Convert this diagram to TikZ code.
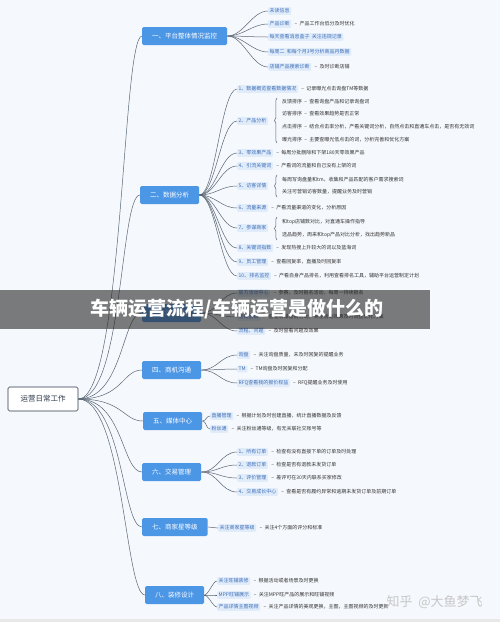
\documentclass[tikz,border=0pt]{standalone}
\usepackage{fontspec}
\setmainfont{Noto Sans CJK SC}
\usetikzlibrary{positioning,decorations.pathreplacing}
\definecolor{bakgrunn}{HTML}{F5F8FC}
\definecolor{hovedblaa}{HTML}{4C96E6}
\definecolor{merkefyll}{HTML}{E1ECFA}
\definecolor{merketekst}{HTML}{3B6DB8}
\definecolor{linjefarge}{HTML}{5A6675}
\definecolor{tekstfarge}{HTML}{333333}
\definecolor{rotfarge}{HTML}{2E3A4A}

\begin{document}
\begin{tikzpicture}[x=1pt,y=1pt,
  rot/.style={draw=rotfarge, fill=white, line width=0.6pt, rounded corners=1.5pt,
    minimum width=70pt, minimum height=24pt, text=rotfarge, font=\fontsize{7.5}{8}\selectfont},
  sec/.style={anchor=west, fill=hovedblaa, text=white, rounded corners=1.5pt,
    minimum height=18pt, inner xsep=10pt, font=\fontsize{6.5}{7}\selectfont},
  tag/.style={anchor=west, fill=merkefyll, text=merketekst, rounded corners=1pt,
    inner xsep=1.5pt, inner ysep=1.5pt, font=\fontsize{5}{6}\selectfont},
  note/.style={anchor=west, text=tekstfarge, inner sep=0pt, font=\fontsize{5}{6}\selectfont},
  branch/.style={draw=linjefarge, line width=0.5pt},
  stamme/.style={to path={.. controls +(45,0) and +(-20,0) .. (\tikztotarget)}},
  kurve/.style={to path={.. controls +(16,0) and +(-16,0) .. (\tikztotarget)}},
  kort/.style={to path={.. controls +(4,0) and +(-4,0) .. (\tikztotarget)}},
  klamme/.style={draw=linjefarge, line width=0.5pt, decorate, decoration={brace, amplitude=2.5pt}},
]
%Bakgrunn
  \fill[bakgrunn] (0,0) rectangle (500,-622);
  \fill[black!9] (0,-619) rectangle (500,-622);
  \useasboundingbox (0,0) rectangle (500,-622);

%Rot
  \node[rot] (root) at (43,-399) {运营日常工作};

%Hovedgrener
  \node[sec] (sec1) at (142,-36) {一、平台整体情况监控};
  \node[sec] (sec2) at (140,-195) {二、数据分析};
  \node[sec] (sec3) at (142,-313) {三、活动管理};
  \node[sec] (sec4) at (142,-370) {四、商机沟通};
  \node[sec] (sec5) at (143,-421) {五、媒体中心};
  \node[sec] (sec6) at (142,-472) {六、交易管理};
  \node[sec] (sec7) at (142,-527) {七、商家星等级};
  \node[sec] (sec8) at (145,-595) {八、装修设计};

%Linjer fra rot
  \path[branch] (root.east) edge[stamme] (sec1.west) edge[stamme] (sec2.west) edge[stamme] (sec3.west)
    edge[stamme] (sec4.west) edge[stamme] (sec5.west) edge[stamme] (sec6.west)
    edge[stamme] (sec7.west) edge[stamme] (sec8.west);

%En
  \node[tag] (t11) at (268,-11) {未读信息};
  \node[tag] (t12) at (268,-24) {产品诊断};
  \node[note, right=3pt of t12] (d12) {– \ 产品工作台低分及时优化};
  \node[tag] (t13) at (268,-37) {每天查看消息盒子 \ 关注违规记录};
  \node[tag] (t14) at (268,-52) {每周二 \ 和每个月3号分析商品月数据};
  \node[tag] (t15) at (268,-67) {店铺产品搜索诊断};
  \node[note, right=3pt of t15] (d15) {– \ 及时诊断店铺};
  \path[branch] (sec1.east) edge[kurve] (t11.west) edge[kurve] (t12.west) edge[kurve] (t13.west)
    edge[kurve] (t14.west) edge[kurve] (t15.west);

%To
  \node[tag] (t21) at (237,-89) {1、数据概览查看数据情况};
  \node[note, right=3pt of t21] (d21) {– \ 记录曝光点击询盘TM等数据};
  \node[tag] (t22) at (237,-121) {2、产品分析};
  \draw[klamme] (277,-143) -- (277,-98);
  \node[note] (p1) at (282,-102) {反馈排序 \ – \ 查看询盘产品和记录询盘词};
  \node[note] (p2) at (282,-114) {访客排序 \ – \ 查看效果趋势是否正常};
  \node[note] (p3) at (282,-127) {点击排序 \ – \ 结合点击率分析，产看关键词分析，自然点击和直通车点击，是否有无效词};
  \node[note] (p4) at (282,-140) {曝光排序 \ – \ 主要查曝光低点击的词，分析完善和优化方案};
  \node[tag] (t23) at (237,-153) {3、零效果产品};
  \node[note, right=3pt of t23] (d23) {– \ 每周分批删除和下架180天零效果产品};
  \node[tag] (t24) at (237,-166) {4、引流关键词};
  \node[note, right=3pt of t24] (d24) {– \ 产看词的流量和自己没有上架的词};
  \node[tag] (t25) at (237,-186) {5、访客详情};
  \draw[klamme] (277,-197) -- (277,-175);
  \node[note] (v1) at (282,-180) {每周写询盘量和tm，收集和产品匹配的客户需求搜索词};
  \node[note] (v2) at (282,-192) {关注可营销访客数量，提醒业务及时营销};
  \node[tag] (t26) at (237,-208) {6、流量来源};
  \node[note, right=3pt of t26] (d26) {– \ 产看流量渠道的变化，分析原因};
  \node[tag] (t27) at (237,-228) {7、参谋商家};
  \draw[klamme] (277,-240) -- (277,-217);
  \node[note] (s1) at (282,-222) {和top店铺数对比，对直通车操作指导};
  \node[note] (s2) at (282,-235) {选品趋势，周来和top产品对比分析，找出趋势新品};
  \node[tag] (t28) at (237,-248) {8、关键词指数};
  \node[note, right=3pt of t28] (d28) {– \ 发现热搜上升较大的词以及蓝海词};
  \node[tag] (t29) at (237,-262) {9、员工管理};
  \node[note, right=3pt of t29] (d29) {– \ 查看回复率，直播及时回复率};
  \node[tag] (t210) at (237,-276) {10、排名监控};
  \node[note, right=3pt of t210] (d210) {– \ 产看自身产品排名，利用查看排名工具，辅助平台运营制定计划};
  \path[branch] (sec2.east) edge[kurve] (t21.west) edge[kurve] (t22.west) edge[kurve] (t23.west)
    edge[kurve] (t24.west) edge[kurve] (t25.west) edge[kurve] (t26.west) edge[kurve] (t27.west)
    edge[kurve] (t28.west) edge[kurve] (t29.west) edge[kurve] (t210.west);

%Tre
  \node[tag] (t31) at (237,-293) {官方活动中心};
  \node[note, right=3pt of t31] (d31) {– \ 参赛，及时报名活动，每周一持续报名};
  \node[tag] (t32) at (237,-317) {店铺营销};
  \node[note, right=3pt of t32] (d32) {– \ 查看店铺营销活动，关注活动效果及时调整优化方案};
  \node[tag] (t33) at (237,-331) {流程、问题};
  \node[note, right=3pt of t33] (d33) {– \ 及时查看问题及效果};
  \path[branch] (sec3.east) edge[kurve] (t31.west) edge[kurve] (t32.west) edge[kurve] (t33.west);

%Fire
  \node[tag] (t41) at (237,-355) {询盘};
  \node[note, right=3pt of t41] (d41) {– \ 关注询盘质量，未及时回复的提醒业务};
  \node[tag] (t42) at (237,-369) {TM};
  \node[note, right=3pt of t42] (d42) {– \ TM询盘及时回复和分配};
  \node[tag] (t43) at (237,-383) {RFQ查看我的报价权益};
  \node[note, right=3pt of t43] (d43) {– \ RFQ提醒业务及时使用};
  \path[branch] (sec4.east) edge[kurve] (t41.west) edge[kurve] (t42.west) edge[kurve] (t43.west);

%Fem
  \node[tag] (t51) at (210,-416) {直播管理};
  \node[note, right=3pt of t51] (d51) {– \ 根据计划及时创建直播，统计直播数据及反馈};
  \node[tag] (t52) at (210,-429) {粉丝通};
  \node[note, right=3pt of t52] (d52) {– \ 关注粉丝通等级，有无关联社交账号等};
  \path[branch] (sec5.east) edge[kort] (t51.west) edge[kort] (t52.west);

%Seks
  \node[tag] (t61) at (237,-452) {1、所有订单};
  \node[note, right=3pt of t61] (d61) {– \ 检查有没有直接下单的订单及时处理};
  \node[tag] (t62) at (237,-465) {2、退款订单};
  \node[note, right=3pt of t62] (d62) {– \ 检查是否有退款未发货订单};
  \node[tag] (t63) at (237,-478) {3、评价管理};
  \node[note, right=3pt of t63] (d63) {– \ 差评可在30天内联系买家修改};
  \node[tag] (t64) at (237,-492) {4、交易成长中心};
  \node[note, right=3pt of t64] (d64) {– \ 查看是否有履约异常和逾期未发货订单及前期订单};
  \path[branch] (sec6.east) edge[kurve] (t61.west) edge[kurve] (t62.west) edge[kurve] (t63.west)
    edge[kurve] (t64.west);

%Sju
  \node[tag] (t71) at (218,-528) {关注商家星等级};
  \node[note, right=3pt of t71] (d71) {– \ 关注4个方面的评分和标准};
  \draw[branch] (sec7.east) -- (t71.west);

%Aatte
  \node[tag] (t81) at (217,-581) {关注旺铺装修};
  \node[note, right=3pt of t81] (d81) {– \ 根据活动或者场景及时更换};
  \node[tag] (t82) at (217,-595) {MPP旺铺展示};
  \node[note, right=3pt of t82] (d82) {– \ 关注MPP旺产品的展示和旺铺视频};
  \node[tag] (t83) at (217,-607) {产品详情主图视频};
  \node[note, right=3pt of t83] (d83) {– \ 关注产品详情的美观更换，主图，主图视频的及时更新};
  \path[branch] (sec8.east) edge[kort] (t81.west) edge[kort] (t82.west) edge[kort] (t83.west);

%Vannmerke og banner
  \node[text=black!22, font=\fontsize{13}{14}\selectfont, anchor=west] (wm) at (383,-602) {知乎 \ @大鱼梦飞};
  \fill[black!85, opacity=0.6] (0,-290) rectangle (430,-329);
  \node[text=white, font=\bfseries\fontsize{19}{20}\selectfont] (tittel) at (237,-309)
    {车辆运营流程/车辆运营是做什么的};
\end{tikzpicture}
\end{document}
